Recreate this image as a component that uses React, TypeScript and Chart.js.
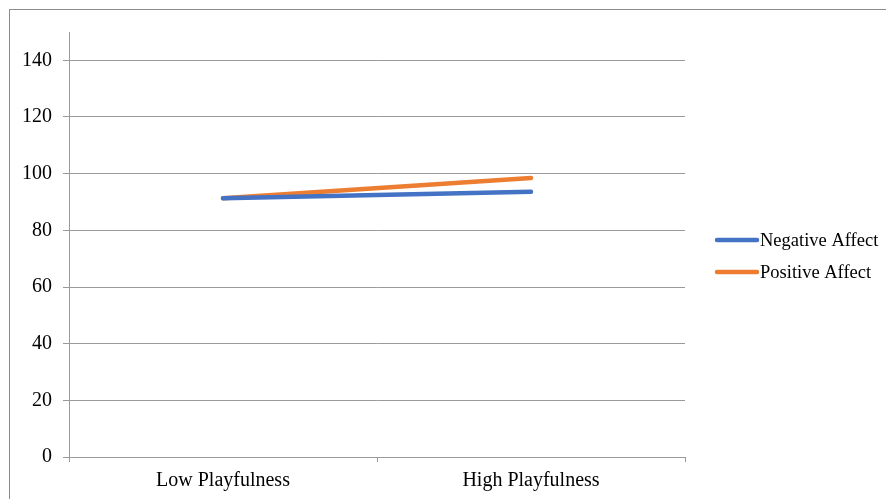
import React, { useEffect, useRef } from "react";
import { Chart, registerables } from "chart.js";

Chart.register(...registerables);

const categories = ["Low Playfulness", "High Playfulness"];
const negativeAffect = [91.3, 93.6];
const positiveAffect = [91.3, 98.5];
const seriesNames = ["Negative Affect", "Positive Affect"];
const seriesColors = ["#4472C4", "#ED7D31"];

const FONT = "'Liberation Serif', 'Times New Roman', serif";

const framePlugin = {
  id: "frameAndLegend",
  beforeDraw(chart: any) {
    const ctx = chart.ctx;
    ctx.save();
    ctx.strokeStyle = "#8c8c8c";
    ctx.lineWidth = 1;
    ctx.strokeRect(9.5, 9.5, 900, 520);
    ctx.restore();
  },
  afterDraw(chart: any) {
    const ctx = chart.ctx;
    ctx.save();
    chart.data.datasets.forEach((ds: any, i: number) => {
      const y = 240 + i * 32;
      ctx.strokeStyle = ds.borderColor;
      ctx.lineWidth = 4.5;
      ctx.lineCap = "round";
      ctx.beginPath();
      ctx.moveTo(717, y);
      ctx.lineTo(757, y);
      ctx.stroke();
      ctx.fillStyle = "#000";
      ctx.font = `18.5px ${FONT}`;
      ctx.textBaseline = "middle";
      ctx.textAlign = "left";
      ctx.fillText(ds.label, 760, y + 1);
    });
    ctx.restore();
  },
};

export default function App() {
  const ref = useRef<HTMLCanvasElement | null>(null);
  useEffect(() => {
    if (!ref.current) return;
    const chart = new Chart(ref.current, {
      type: "line",
      data: {
        labels: categories,
        datasets: [
          {
            label: seriesNames[0],
            data: negativeAffect,
            borderColor: seriesColors[0],
            backgroundColor: seriesColors[0],
            borderWidth: 4.5,
            borderCapStyle: "round",
            pointRadius: 0,
            tension: 0,
          },
          {
            label: seriesNames[1],
            data: positiveAffect,
            borderColor: seriesColors[1],
            backgroundColor: seriesColors[1],
            borderWidth: 4.5,
            borderCapStyle: "round",
            pointRadius: 0,
            tension: 0,
          },
        ],
      },
      options: {
        animation: false,
        responsive: false,
        devicePixelRatio: 1,
        layout: { padding: { left: 0, right: 201, top: 32, bottom: 0 } },
        plugins: { legend: { display: false }, tooltip: { enabled: false } },
        scales: {
          x: {
            offset: true,
            afterFit: (s: any) => {
              s.height = 42;
            },
            grid: {
              offset: true,
              drawOnChartArea: false,
              drawTicks: true,
              tickLength: 5,
              color: "#9a9a9a",
            },
            border: { display: true, color: "#9a9a9a" },
            ticks: {
              color: "#000",
              padding: 7,
              font: { family: FONT, size: 20 },
              maxRotation: 0,
            },
          },
          y: {
            min: 0,
            max: 150,
            afterFit: (s: any) => {
              s.width = 69;
            },
            afterBuildTicks: (s: any) => {
              s.ticks = s.ticks.filter((t: any) => t.value <= 140);
            },
            grid: { color: "#9a9a9a", tickLength: 6, drawTicks: true },
            border: { display: true, color: "#9a9a9a" },
            ticks: {
              stepSize: 20,
              color: "#000",
              padding: 11,
              font: { family: FONT, size: 20 },
            },
          },
        },
      },
      plugins: [framePlugin],
    });
    return () => chart.destroy();
  }, []);
  return (
    <div style={{ position: "fixed", left: 0, top: 0, width: 886, height: 499, background: "#fff" }}>
      <canvas ref={ref} width={886} height={499} style={{ display: "block" }} />
    </div>
  );
}
